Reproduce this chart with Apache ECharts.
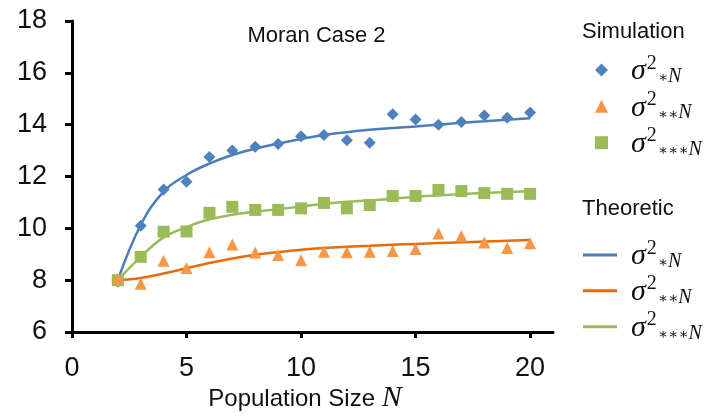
<!DOCTYPE html>
<html><head><meta charset="utf-8">
<script src="https://cdn.jsdelivr.net/npm/echarts@6/dist/echarts.min.js"></script>
<style>html,body{margin:0;padding:0;background:#fff}#c{width:714px;height:419px}</style>
</head><body><div id="c"></div>
<script>
// Population sizes N
const popN = [2,3,4,5,6,7,8,9,10,11,12,13,14,15,16,17,18,19,20];
// Simulation values
const simStar1 = [7.95,10.1,11.5,11.8,12.75,13.0,13.15,13.25,13.55,13.6,13.4,13.3,14.4,14.2,14.0,14.1,14.35,14.27,14.47];
const simStar2 = [8.05,7.86,8.75,8.47,9.08,9.38,9.07,8.97,8.77,9.1,9.08,9.1,9.13,9.2,9.8,9.7,9.45,9.24,9.42];
const simStar3 = [8.0,8.9,9.87,9.88,10.6,10.83,10.71,10.71,10.77,10.98,10.77,10.9,11.25,11.25,11.48,11.44,11.36,11.33,11.33];
// Theoretic values
const thStar1 = [8.0,10.13,11.42,12.06,12.5,12.83,13.07,13.27,13.45,13.6,13.71,13.8,13.87,13.93,14.0,14.07,14.13,14.19,14.25];
const thStar2 = [8.0,8.08,8.26,8.46,8.66,8.84,8.98,9.08,9.17,9.24,9.29,9.33,9.37,9.4,9.43,9.46,9.49,9.52,9.55];
const thStar3 = [8.0,8.9,9.65,10.05,10.35,10.52,10.64,10.74,10.84,10.95,11.03,11.08,11.14,11.22,11.27,11.32,11.36,11.4,11.43];
// Axis ticks
const xTicks = [0,5,10,15,20];
const yTicks = [6,8,10,12,14,16,18];

const titleText = 'Moran Case 2';
const simTitle = 'Simulation';
const thTitle = 'Theoretic';
const xName = 'Population Size ';

const pair = (ys) => popN.map((n, i) => [n, ys[i]]);

const legendLabel = {
  sim1: '{s|σ}{p|2}{b|∗}{n|N}',
  sim2: '{s|σ}{p|2}{b|∗∗}{n|N}',
  sim3: '{s|σ}{p|2}{b|∗∗∗}{n|N}',
  th1: '{s|σ}{p|2}{b|∗}{n|N}',
  th2: '{s|σ}{p|2}{b|∗∗}{n|N}',
  th3: '{s|σ}{p|2}{b|∗∗∗}{n|N}'
};
function makeRich(padLeft) {
  return {
    s: {fontFamily:'Liberation Serif', fontStyle:'italic', fontSize:30, color:'#111', padding:[3.2,0,0,padLeft]},
    p: {fontFamily:'Liberation Serif', fontSize:20, color:'#111', padding:[0,0,13.5,1]},
    b: {fontFamily:'DejaVu Serif', fontSize:15, color:'#111', padding:[16.6,0,0,1]},
    n: {fontFamily:'Liberation Serif', fontStyle:'italic', fontSize:20, color:'#111', padding:[13.1,0,0,0]}
  };
}

const cBlue = '#4F81BD', cOrange = '#F79646', cGreen = '#9BBB59';
const lBlue = '#4A7EBB', lOrange = '#E46C0A', lGreen = '#9BBB59';

const chart = echarts.init(document.getElementById('c'), null, {renderer:'canvas'});
chart.setOption({
  animation: false,
  backgroundColor: '#fff',
  grid: {left:72, right:161, top:21, bottom:87},
  graphic: [
    {type:'text', x:316.5, y:36, style:{text:titleText, font:'22px "Liberation Sans"', fill:'#111', align:'center', verticalAlign:'middle'}},
    {type:'text', x:582, y:31.7, style:{text:simTitle, font:'22px "Liberation Sans"', fill:'#111', align:'left', verticalAlign:'middle'}},
    {type:'text', x:582, y:209, style:{text:thTitle, font:'22px "Liberation Sans"', fill:'#111', align:'left', verticalAlign:'middle'}}
  ],
  legend: [
    {data:['sim1','sim2','sim3'], orient:'vertical', left:595, top:53.25, padding:0,
     itemWidth:13, itemHeight:13, itemGap:3, selectedMode:false,
     formatter: (name) => legendLabel[name], textStyle:{rich:makeRich(18)}},
    {data:[{name:'th1', icon:'rect'},{name:'th2', icon:'rect'},{name:'th3', icon:'rect'}],
     orient:'vertical', left:583, top:238.25, padding:0,
     itemWidth:34, itemHeight:3, itemGap:2.5, selectedMode:false,
     formatter: (name) => legendLabel[name], textStyle:{rich:makeRich(9)}}
  ],
  xAxis: {
    type:'value', min:0, max:21,
    name: '{a|' + xName + '}{n|N}', nameLocation:'middle', nameGap:51, nameMoveOverlap:false,
    nameTextStyle:{rich:{
      a:{fontFamily:'Liberation Sans', fontSize:24, color:'#111'},
      n:{fontFamily:'Liberation Serif', fontStyle:'italic', fontSize:30, color:'#111', padding:[0,15,3.4,0]}
    }},
    axisLine:{show:true, onZero:false, lineStyle:{color:'#000', width:3}},
    axisTick:{show:true, length:6, lineStyle:{color:'#000', width:3}, customValues:xTicks},
    axisLabel:{fontFamily:'Liberation Sans', fontSize:27, color:'#111', margin:23, customValues:xTicks},
    splitLine:{show:false}
  },
  yAxis: {
    type:'value', min:yTicks[0], max:yTicks[yTicks.length-1], interval:2,
    axisLine:{show:true, onZero:false, lineStyle:{color:'#000', width:3}},
    axisTick:{show:true, length:7, lineStyle:{color:'#000', width:3}},
    axisLabel:{fontFamily:'Liberation Sans', fontSize:27, color:'#111', margin:25},
    splitLine:{show:false}
  },
  series: [
    {name:'th1', type:'line', data:pair(thStar1), symbol:'none', smooth:0.4, lineStyle:{color:lBlue, width:2.5}, itemStyle:{color:lBlue}, z:2},
    {name:'th2', type:'line', data:pair(thStar2), symbol:'none', smooth:0.4, lineStyle:{color:lOrange, width:2.5}, itemStyle:{color:lOrange}, z:2},
    {name:'th3', type:'line', data:pair(thStar3), symbol:'none', smooth:0.4, lineStyle:{color:lGreen, width:2.5}, itemStyle:{color:lGreen}, z:2},
    {name:'sim1', type:'scatter', data:pair(simStar1), symbol:'diamond', symbolSize:12, itemStyle:{color:cBlue, opacity:1}, z:3},
    {name:'sim3', type:'scatter', data:pair(simStar3), symbol:'rect', symbolSize:12, itemStyle:{color:cGreen, opacity:1}, z:3},
    {name:'sim2', type:'scatter', data:pair(simStar2), symbol:'triangle', symbolSize:12, itemStyle:{color:cOrange, opacity:1}, z:3}
  ]
});
</script>
</body></html>
